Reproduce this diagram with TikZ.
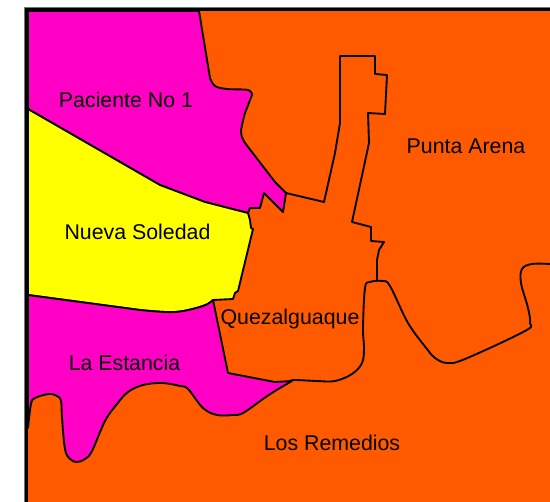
\documentclass[tikz,border=0pt]{standalone}
\usepackage{fontspec}
\setmainfont{Liberation Sans}
\definecolor{mapOrange}{HTML}{FF5A00}
\definecolor{mapMagenta}{HTML}{FF00C4}
\definecolor{mapYellow}{HTML}{FFFF00}
\tikzset{
  border/.style={draw=black,line width=1.4pt,line join=round,line cap=round},
  curvy/.style={smooth,tension=0.6},
  label/.style={font=\fontsize{16pt}{18pt}\selectfont,text=black,inner sep=0pt},
}
\begin{document}
\begin{tikzpicture}[x=0.75pt,y=-0.75pt]
\useasboundingbox (0,0) rectangle (550,502);
\fill[white] (0,0) rectangle (550,502);
\fill[mapOrange] (26,9) rectangle (550,502);
% Paciente No 1
\fill[mapMagenta,border] (28,11) -- (199,11) -- (210,78) -- plot[curvy] coordinates {(210,78) (215,86) (227,89) (248,90) (252,95)} -- (245,113) -- plot[curvy] coordinates {(245,113) (241,132) (245,143)} -- (275,182) -- (286,193) -- (283,212) -- (264,193) -- (260,208) -- (250,208) -- (248,213) -- (205,202) -- (160,185) -- (28,109) -- cycle;
% Nueva Soledad
\fill[mapYellow,border] (28,109) -- (160,185) -- (205,202) -- (248,213) -- (250,220) -- (251,228) -- (253,229) -- (238,291) -- (235,293) -- (233,299) -- (213,300) -- plot[curvy] coordinates {(213,300) (203,306) (175,312) (140,310)} -- (28,295) -- cycle;
% La Estancia
\fill[mapMagenta,border] (28,295) -- (140,310) -- plot[curvy] coordinates {(140,310) (175,312) (203,306) (213,300)} -- (228,373) -- (275,382) -- (292,381) -- plot[curvy] coordinates {(292,381) (275,391) (263,399) (243,413) (233,415) (217,415) (203,408) (188,389) (180,386) (162,383) (143,385) (128,392) (117,404) (105,421) (92,451) (85,459) (77,462) (70,459) (65,449) (62,418) (61,401) (57,396) (49,394) (35,398) (31,404) (28,428)} -- cycle;
% Quezalguaque and Punta Arena boundary
\draw[border] (286,193) -- (324,202) -- (335,153) -- (340,123) -- (340,56) -- (375,56) -- (375,74) -- (387,75) -- (385,114) -- (368,113) -- (369,143) -- (352,222) -- (371,227) -- (371,241) -- (384,242) -- (379,250) -- (377,260) -- (377,281);
% Los Remedios upper boundary
\draw[border] plot[curvy] coordinates {(290,381) (295,380) (317,381) (335,381) (352,374) (362,363) (364,348) (363,328) (365,288) (370,282) (382,281) (390,286) (408,323) (427,349) (435,358) (447,363) (465,359) (525,331) (530,323) (528,308) (521,283) (522,269) (532,264) (550,264)};
% frame
\draw[black!55,line width=0.6pt] (24.6,502) -- (24.6,7.6) -- (550,7.6);
\draw[black,line width=2.2pt] (26.5,502) -- (26.5,9.5) -- (550,9.5);
\node[label] (paciente) at (126,99.5) {Paciente No 1};
\node[label] (punta) at (466,146.5) {Punta Arena};
\node[label] (nueva) at (137.5,231.5) {Nueva Soledad};
\node[label] (quezal) at (290,319) {Quezalguaque};
\node[label] (estancia) at (124.5,362.5) {La Estancia};
\node[label] (remedios) at (332,442.5) {Los Remedios};
\end{tikzpicture}
\end{document}
